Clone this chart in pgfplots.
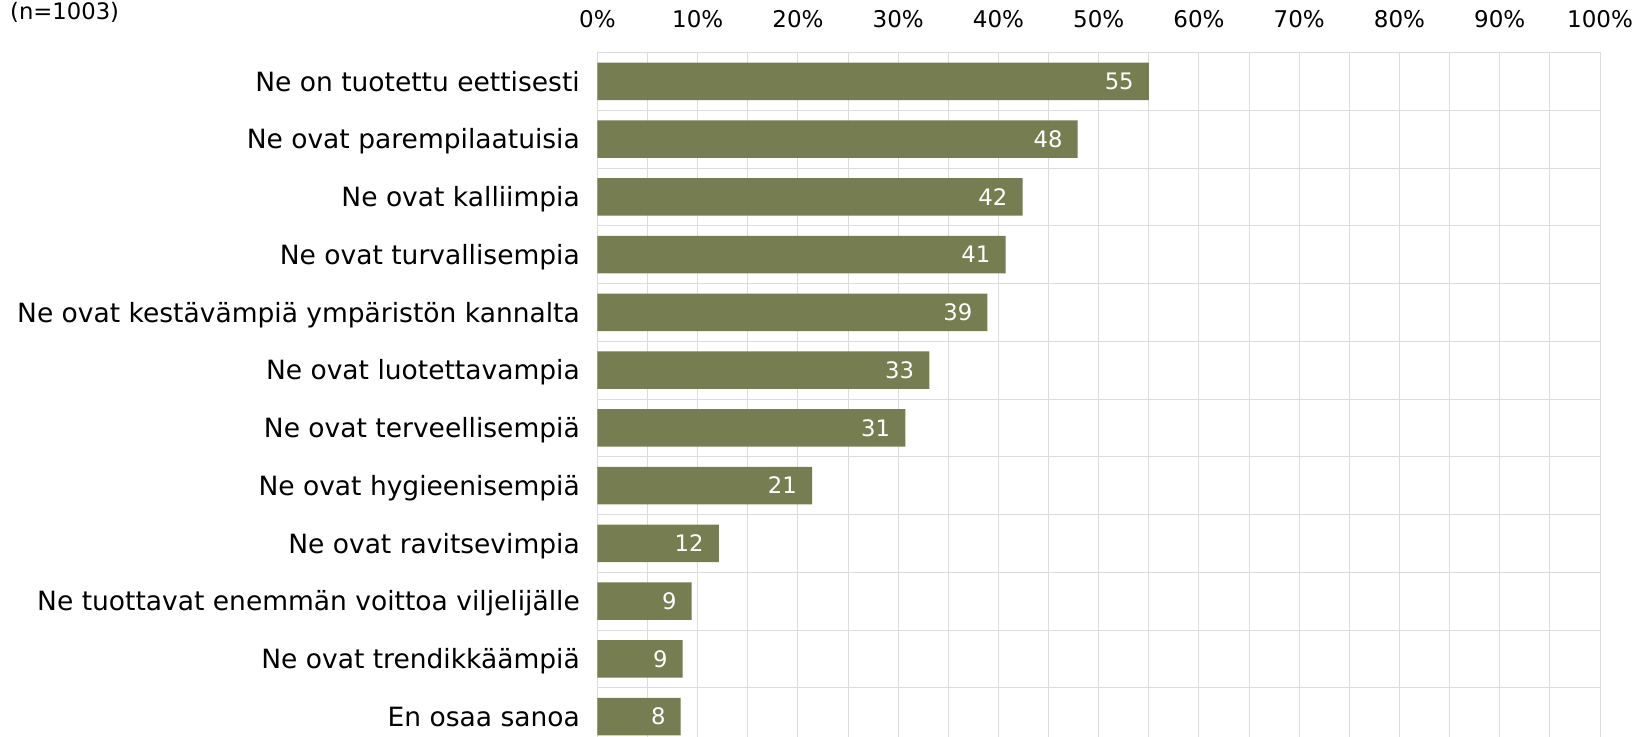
\documentclass[border=0pt]{standalone}
\usepackage{pgfplots}
\usepackage{pgfplotstable}
\pgfplotsset{compat=1.18}
\usepackage{fontspec}
\setmainfont{DejaVu Sans}
\definecolor{barcol}{HTML}{767D50}
\definecolor{gridcol}{HTML}{DCDCDC}
\pgfplotstableread{
y x lab
0 55.0 55
1 47.9 48
2 42.4 42
3 40.7 41
4 38.9 39
5 33.1 33
6 30.7 31
7 21.4 21
8 12.1 12
9 9.4 9
10 8.5 9
11 8.3 8
}\datatable
\begin{document}
\begin{tikzpicture}
\path[use as bounding box] (-597.5bp,-684.5bp) rectangle (1041.5bp,52.5bp);
\begin{axis}[
  at={(0,0)}, anchor=north west,
  scale only axis, width=1002.5bp, height=693bp,
  xbar, bar width=0.65,
  xmin=0, xmax=100, ymin=-0.5, ymax=11.5, y dir=reverse,
  xtick={0,10,...,100},
  xticklabels={0\%,10\%,20\%,30\%,40\%,50\%,60\%,70\%,80\%,90\%,100\%},
  minor x tick num=1,
  xmajorgrids, xminorgrids,
  ytick={0,...,11},
  yticklabels={Ne on tuotettu eettisesti,Ne ovat parempilaatuisia,Ne ovat kalliimpia,Ne ovat turvallisempia,Ne ovat kestävämpiä ympäristön kannalta,Ne ovat luotettavampia,Ne ovat terveellisempiä,Ne ovat hygieenisempiä,Ne ovat ravitsevimpia,Ne tuottavat enemmän voittoa viljelijälle,Ne ovat trendikkäämpiä,En osaa sanoa},
  minor ytick={-0.5,0.5,...,11.5},
  yminorgrids,
  major grid style={draw=gridcol, line width=1bp},
  minor grid style={draw=gridcol, line width=1bp},
  axis line style={draw=gridcol, line width=1bp},
  tick style={draw=none},
  major tick length=0pt, minor tick length=0pt,
  xticklabel pos=upper,
  xticklabel style={font=\fontsize{23bp}{27bp}\selectfont, anchor=base, yshift=25.5bp, inner sep=0pt},
  yticklabel style={font=\fontsize{26.5bp}{32bp}\selectfont, anchor=base east, xshift=-17.5bp, yshift=-9.7bp, inner sep=0pt},
  point meta=explicit symbolic,
  nodes near coords,
  nodes near coords style={anchor=base east, xshift=-15bp, yshift=-8.3bp, inner sep=0pt, text=white, font=\fontsize{22.7bp}{27bp}\selectfont},
]
\addplot[fill=barcol, draw=none] table[x=x, y=y, meta=lab] {\datatable};
\end{axis}
\node[anchor=base west, inner sep=0pt, font=\fontsize{22.7bp}{27bp}\selectfont] at (-587.5bp,33.5bp) {(n=1003)};
\end{tikzpicture}
\end{document}
